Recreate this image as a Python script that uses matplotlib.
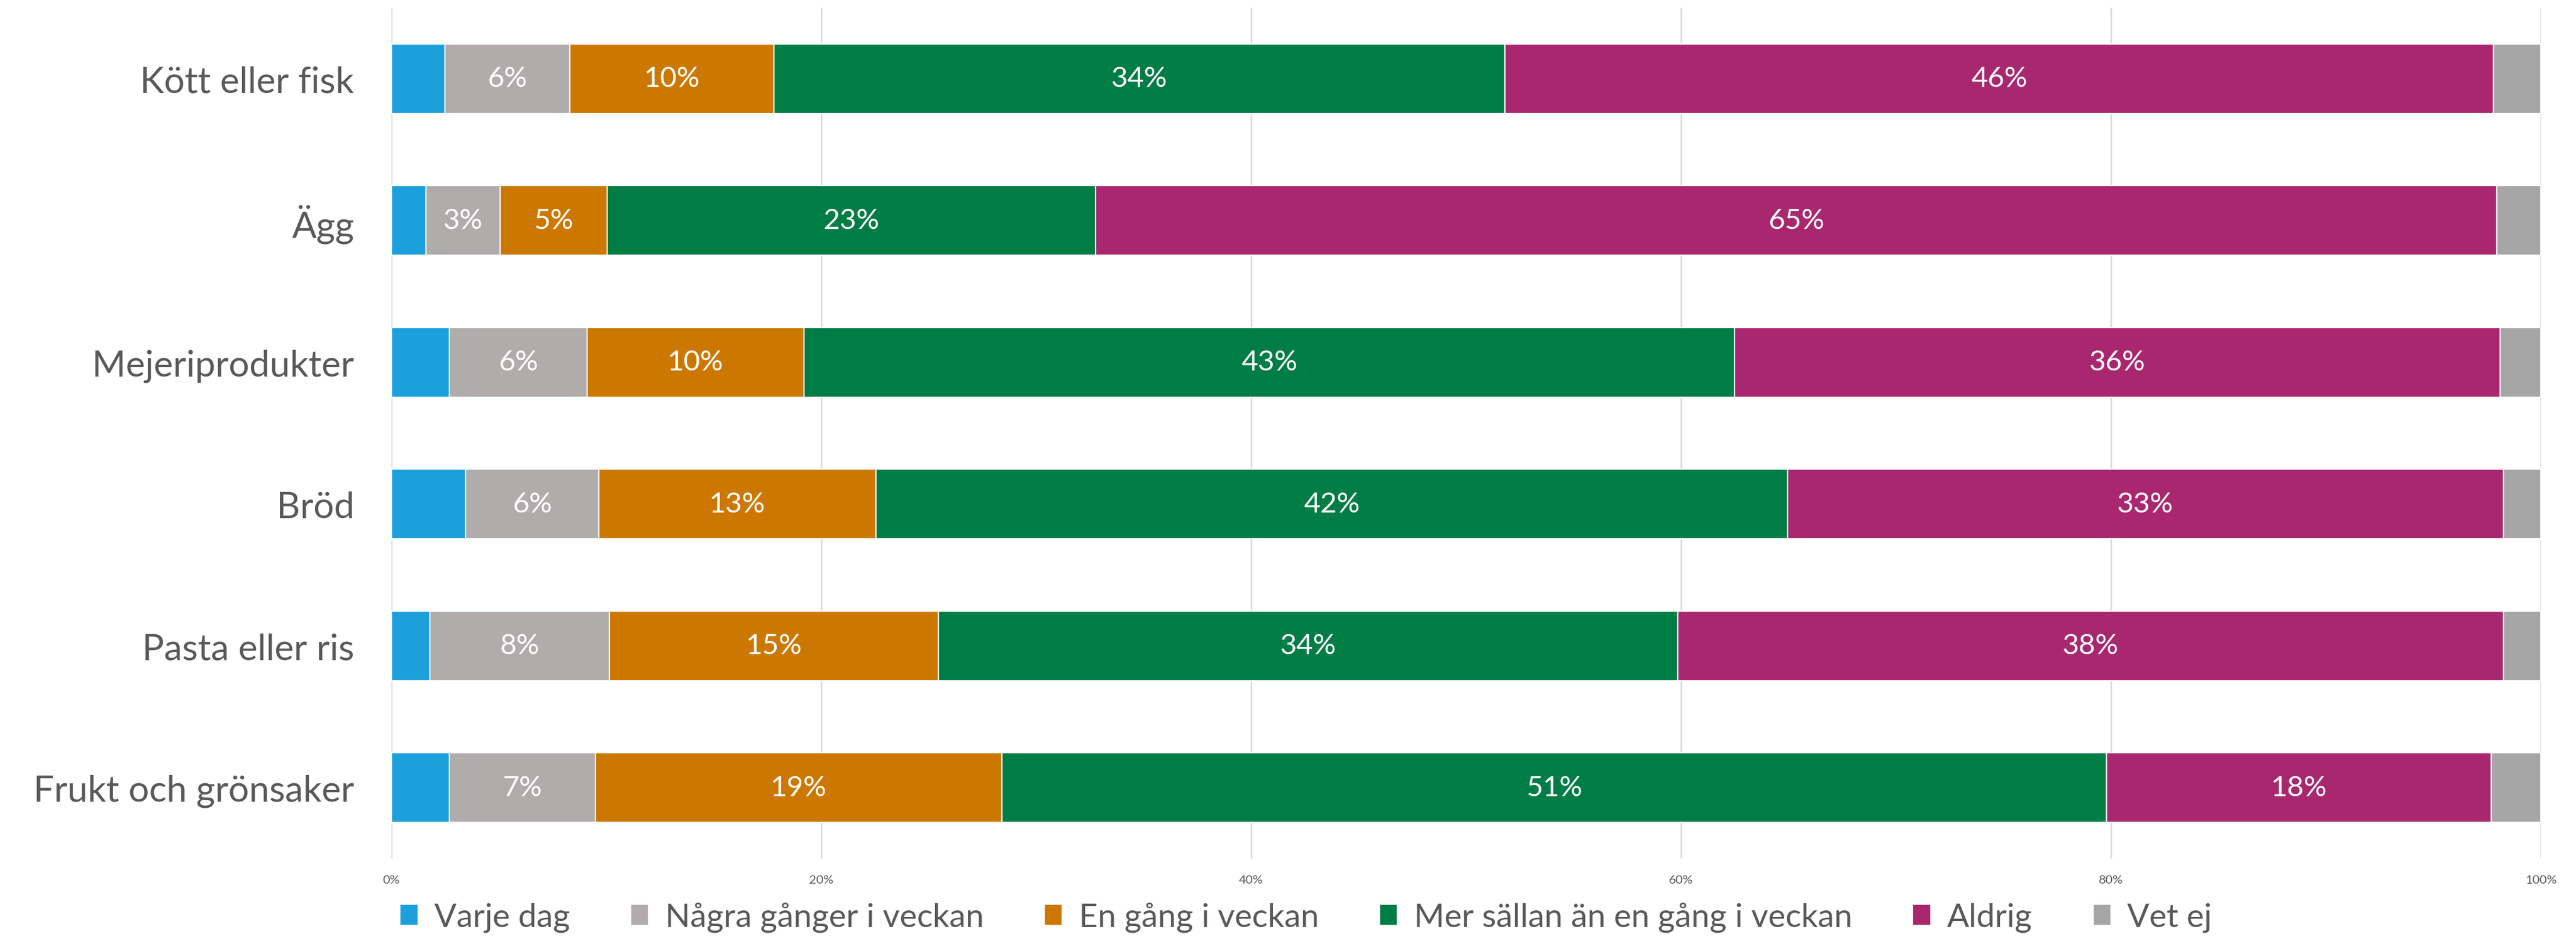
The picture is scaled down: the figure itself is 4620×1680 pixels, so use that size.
import numpy as np
import matplotlib
matplotlib.use('Agg')
import matplotlib.pyplot as plt

plt.rcParams['font.family'] = ['Lato', 'DejaVu Sans']

# data (share of respondents, %)
categories = ['Kött eller fisk', 'Ägg', 'Mejeriprodukter', 'Bröd', 'Pasta eller ris', 'Frukt och grönsaker']
series_names = ['Varje dag', 'Några gånger i veckan', 'En gång i veckan',
                'Mer sällan än en gång i veckan', 'Aldrig', 'Vet ej']
varje_dag = [2.5, 1.6, 2.7, 3.45, 1.8, 2.7]
nagra_ggr = [5.8, 3.45, 6.4, 6.2, 8.35, 6.8]
en_gang = [9.5, 5.0, 10.1, 12.9, 15.3, 18.9]
mer_sallan = [34.0, 22.7, 43.3, 42.4, 34.4, 51.4]
aldrig = [46.0, 65.2, 35.6, 33.3, 38.4, 17.9]
vet_ej = [2.2, 2.05, 1.9, 1.75, 1.75, 2.3]

colors = ['#1CA0DC', '#AFACAB', '#CC7800', '#007C45', '#A8276F', '#A6A6A6']
show_labels = [False, True, True, True, True, False]

fig = plt.figure(figsize=(46.2, 16.81), dpi=100)
ax = fig.add_axes([702/4620, 1-1542/1681, (4557-702)/4620, (1542-15)/1681])

y = np.arange(len(categories))
left = np.zeros(len(categories))
all_series = [varje_dag, nagra_ggr, en_gang, mer_sallan, aldrig, vet_ej]
for name, vals, col, lab in zip(series_names, all_series, colors, show_labels):
    vals = np.array(vals)
    bars = ax.barh(y, vals, height=0.49, left=left, color=col, edgecolor='white',
                   linewidth=1.6, label=name, zorder=3)
    if lab:
        ax.bar_label(bars, labels=['%d%%' % round(v) for v in vals], label_type='center',
                     color='white', fontsize=37)
    left = left + vals

ax.set_xlim(0, 100)
ax.set_ylim(5.5, -0.5)
ax.set_yticks(y)
ax.set_yticklabels(categories, fontsize=47, color='#595959')
ax.set_xticks(np.arange(0, 101, 20))
ax.set_xticklabels(['%d%%' % t for t in range(0, 101, 20)], fontsize=16, color='#595959')
ax.tick_params(axis='both', length=0)
ax.tick_params(axis='y', pad=48)
ax.tick_params(axis='x', pad=20)
ax.grid(axis='x', color='#D9D9D9', linewidth=2, zorder=0)
for s in ax.spines.values():
    s.set_visible(False)

fig.legend(loc='center', bbox_to_anchor=(0.507, 1-1647/1681), ncol=6, frameon=False,
           prop={'size': 42.3}, labelcolor='#595959',
           handlelength=0.55, handleheight=0.6, handletextpad=0.5, columnspacing=1.85)

fig.savefig('out.png', dpi=100)
